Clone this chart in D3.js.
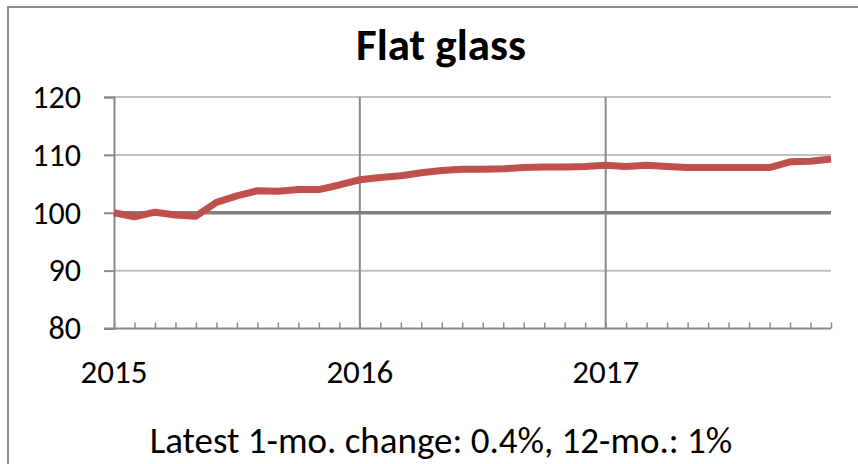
<!DOCTYPE html>
<html>
<head>
<meta charset="utf-8">
<script src="https://cdn.jsdelivr.net/npm/d3@7"></script>
<style>
  html, body { margin: 0; padding: 0; background: #fff; }
  svg { display: block; }
  text { font-family: Carlito, "Open Sans", sans-serif; fill: #000; }
</style>
</head>
<body>
<svg id="chart" width="858" height="464"></svg>
<script>
// Monthly index, Jan 2015 – Dec 2017 (Jan 2015 = 100)
const months = d3.range(36);
const flatGlass = [
  100.0, 99.3, 100.1, 99.6, 99.4, 101.8, 102.9, 103.8, 103.7, 104.0, 104.0, 104.8,
  105.7, 106.1, 106.4, 106.9, 107.3, 107.5, 107.5, 107.6, 107.8, 107.9, 107.9, 108.0,
  108.2, 108.0, 108.2, 108.0, 107.8, 107.8, 107.8, 107.8, 107.8, 108.8, 108.9, 109.3
];
const baseline = months.map(() => 100);
const yTicks = [80, 90, 100, 110, 120];
const yearTicks = [0, 12, 24];
const yearLabels = ["2015", "2016", "2017"];
const titleText = "Flat glass";
const noteText = "Latest 1-mo. change: 0.4%, 12-mo.: 1%";

const svg = d3.select("#chart");
const W = 858, H = 464;
const m = { left: 114, right: 27, top: 97, bottom: 135.5 };

const x = d3.scaleLinear().domain([0, 35]).range([m.left, W - m.right]);
const y = d3.scaleLinear().domain([80, 120]).range([H - m.bottom, m.top]);

// outer frame
svg.append("rect")
  .attr("x", 8).attr("y", 7).attr("width", W).attr("height", H)
  .attr("fill", "none").attr("stroke", "#8c8c8c").attr("stroke-width", 2);

// title
svg.append("text")
  .attr("x", 441).attr("y", 60)
  .attr("text-anchor", "middle")
  .attr("font-size", 45).attr("font-weight", "bold")
  .text(titleText);

// horizontal gridlines
svg.append("g")
  .selectAll("line")
  .data(yTicks.filter(v => v !== 80 && v !== 100))
  .join("line")
  .attr("x1", x(0)).attr("x2", x(35))
  .attr("y1", d => y(d)).attr("y2", d => y(d))
  .attr("stroke", "#c0c0c0").attr("stroke-width", 2);

// vertical year gridlines
svg.append("g")
  .selectAll("line")
  .data(yearTicks.slice(1))
  .join("line")
  .attr("x1", d => x(d)).attr("x2", d => x(d))
  .attr("y1", y(120)).attr("y2", y(80))
  .attr("stroke", "#8a8a8a").attr("stroke-width", 2);

// y axis
const yAxis = d3.axisLeft(y).tickValues(yTicks).tickSize(10).tickPadding(23);
const gy = svg.append("g").attr("transform", `translate(${m.left},0)`).call(yAxis);
gy.attr("font-family", null).attr("font-size", null);
gy.select(".domain").attr("stroke", "#8a8a8a").attr("stroke-width", 2);
gy.selectAll(".tick line").attr("stroke", "#8a8a8a").attr("stroke-width", 2);
gy.selectAll(".tick text").attr("font-size", 32).attr("dy", "0.32em");

// x axis with monthly minor ticks pointing up
const xAxis = d3.axisBottom(x).tickValues(months).tickSize(-6).tickFormat("");
const gx = svg.append("g").attr("transform", `translate(0,${y(80)})`).call(xAxis);
gx.attr("font-family", null).attr("font-size", null);
gx.select(".domain").attr("stroke", "#8a8a8a").attr("stroke-width", 2).attr("d", `M${m.left - 10},0H${x(35)}`);
gx.selectAll(".tick line").attr("stroke", "#8a8a8a").attr("stroke-width", 1.5);

// year labels
svg.append("g")
  .selectAll("text")
  .data(yearTicks)
  .join("text")
  .attr("x", d => x(d))
  .attr("y", 383)
  .attr("text-anchor", "middle")
  .attr("font-size", 33)
  .text((d, i) => yearLabels[i]);

// 100 reference line
const line = d3.line().x((d, i) => x(months[i])).y(d => y(d));
svg.append("path")
  .datum(baseline)
  .attr("d", line)
  .attr("fill", "none").attr("stroke", "#808080").attr("stroke-width", 3.5);

// index series
svg.append("path")
  .datum(flatGlass)
  .attr("d", line)
  .attr("fill", "none").attr("stroke", "#c0504d").attr("stroke-width", 7)
  .attr("stroke-linejoin", "round");

// footnote
svg.append("text")
  .attr("x", 441).attr("y", 453)
  .attr("text-anchor", "middle")
  .attr("font-size", 37)
  .text(noteText);
</script>
</body>
</html>
